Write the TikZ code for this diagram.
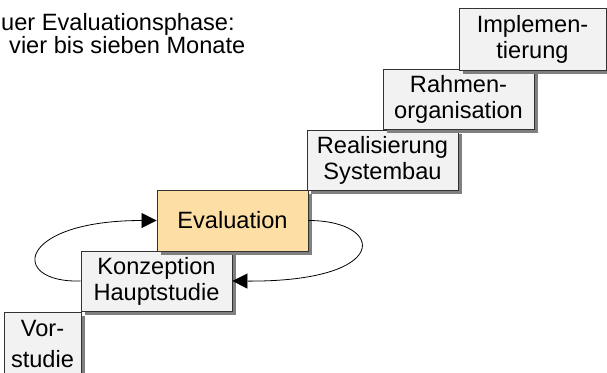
\documentclass[tikz,border=0pt]{standalone}
\usepackage{fontspec}
\setmainfont{Liberation Sans}
\usetikzlibrary{shadows,arrows.meta}
\begin{document}
\definecolor{boxgray}{HTML}{F2F2F2}
\definecolor{evalfill}{HTML}{FDDFA6}
\definecolor{shadowgray}{HTML}{808080}
\definecolor{edgegray}{HTML}{333333}
\tikzset{
  phase/.style={draw=edgegray, line width=0.9pt, fill=boxgray, inner sep=0pt,
    align=center, font=\fontsize{23.6}{26}\selectfont,
    drop shadow={shadow xshift=4pt, shadow yshift=-4pt, fill=shadowgray, opacity=1}},
  loop/.style={line width=0.8pt, -{Triangle[length=15pt,width=15pt]}},
  note/.style={font=\fontsize{23.6}{26}\selectfont, inner sep=0pt, anchor=base west}
}
\begin{tikzpicture}[x=1pt,y=-1pt]
\useasboundingbox (0,0) rectangle (607,372);
\clip (0,0) rectangle (607,372);
\node[phase, minimum width=77pt, minimum height=64pt] (vor) at (42.5,344) {Vor-\\[5pt]studie};
\node[phase, minimum width=151pt, minimum height=60pt] (kon) at (156.5,281) {Konzeption\\Hauptstudie};
\node[phase, fill=evalfill, minimum width=151pt, minimum height=61pt] (eva) at (232.5,220.5) {\raisebox{-1.5pt}{Evaluation}};
\node[phase, minimum width=151pt, minimum height=60pt] (rea) at (382.5,160) {Realisierung\\Systembau};
\node[phase, minimum width=151pt, minimum height=60pt] (rah) at (458.5,99) {Rahmen-\\organisation};
\node[phase, minimum width=147pt, minimum height=62pt] (imp) at (532.5,39) {Implemen-\\tierung};
\draw[loop] (kon.west) .. controls +(-72,2) and +(-140,0) .. (eva.west);
\draw[loop] (eva.east) .. controls +(77,0) and +(160,1) .. (kon.east);
\node[note] (t1) at (1,30) {uer Evaluationsphase:};
\node[note] (t2) at (9,53) {vier bis sieben Monate};
\end{tikzpicture}
\end{document}
